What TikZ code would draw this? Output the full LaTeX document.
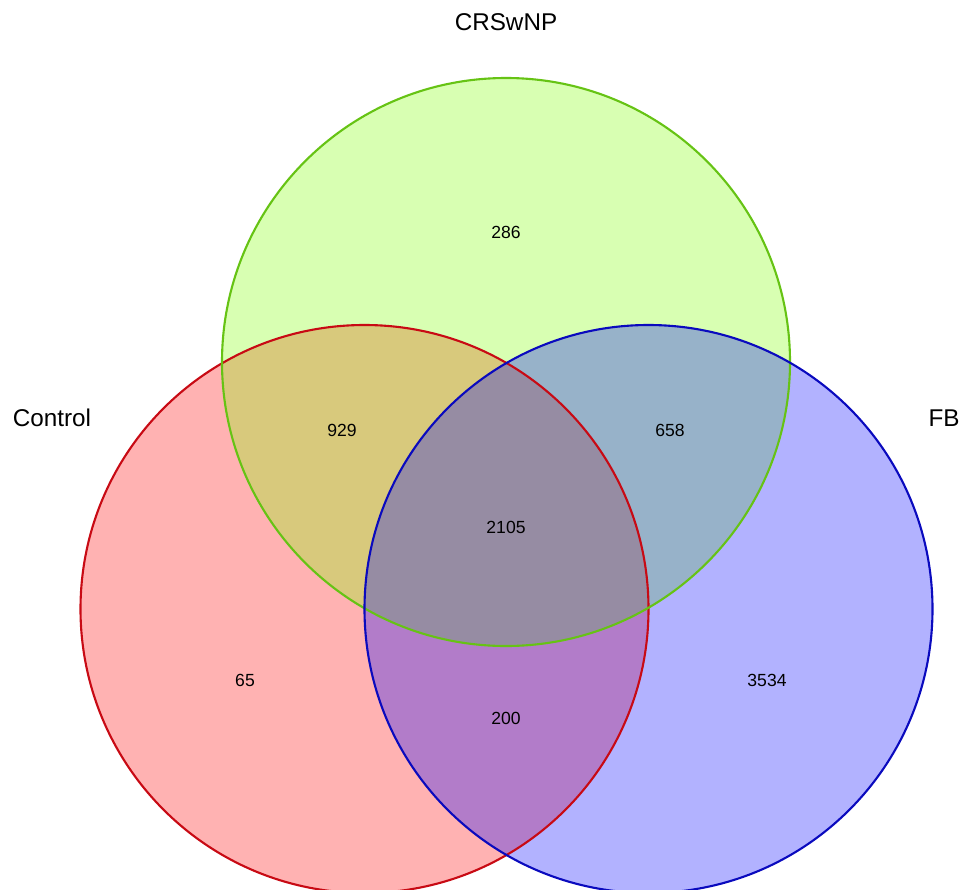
\documentclass[tikz,border=0pt]{standalone}
\usepackage{fontspec}
\setmainfont{Liberation Sans}
\usepackage{xcolor}
\usepackage{tikz}
\definecolor{ctrlred}{RGB}{255,0,0}
\definecolor{crsgreen}{RGB}{127,255,0}
\definecolor{fbblue}{RGB}{0,0,255}
\definecolor{ctrledge}{RGB}{200,10,20}
\definecolor{crsedge}{RGB}{102,195,20}
\definecolor{fbedge}{RGB}{10,10,190}

\begin{document}
\begin{tikzpicture}[x=0.02cm, y=-0.02cm,
    setlabel/.style={font=\fontsize{13.8}{16}\selectfont},
    count/.style={font=\fontsize{10}{12}\selectfont},
    area/.style={fill opacity=0.3},
    rim/.style={line width=1.2pt}]
  \useasboundingbox (0,0) rectangle (973,889);
  \clip (0,0) rectangle (973,889);
  % sets: Control, CRSwNP, FB
  \fill[area, ctrlred] (364.5,609) circle[radius=284];
  \fill[area, crsgreen] (506,362) circle[radius=284];
  \fill[area, fbblue] (648.5,609) circle[radius=284];
  \draw[rim, ctrledge] (364.5,609) circle[radius=284];
  \draw[rim, crsedge] (506,362) circle[radius=284];
  \draw[rim, fbedge] (648.5,609) circle[radius=284];
  % set names
  \node[setlabel] (crs) at (506,22) {CRSwNP};
  \node[setlabel] (ctrl) at (52,418) {Control};
  \node[setlabel] (fb) at (944,418) {FB};
  % counts
  \node[count] (n286) at (506,232) {286};
  \node[count] (n929) at (342,430) {929};
  \node[count] (n658) at (670,430) {658};
  \node[count] (n2105) at (506,527) {2105};
  \node[count] (n65) at (245,680) {65};
  \node[count] (n200) at (506,718) {200};
  \node[count] (n3534) at (767,680) {3534};
\end{tikzpicture}
\end{document}
